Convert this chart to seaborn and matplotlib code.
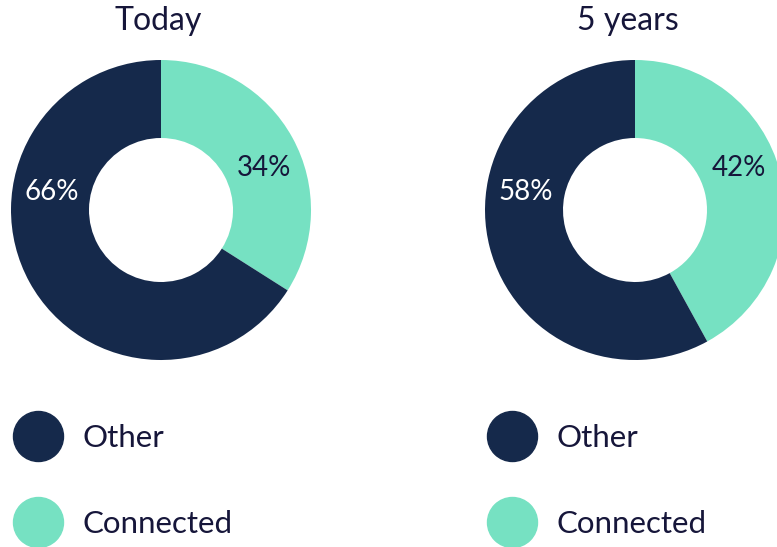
import matplotlib
matplotlib.use('Agg')
import matplotlib.pyplot as plt
import seaborn as sns
from matplotlib.lines import Line2D

# data
periods = ['Today', '5 years']
categories = ['Connected', 'Other']
connected = [34, 42]
other = [66, 58]
legend_order = ['Other', 'Connected']

navy = '#15294B'
mint = '#76E1C2'
text_dark = '#16163A'

sns.set_theme(style='white')
plt.rcParams['font.family'] = ['Lato', 'DejaVu Sans']

W, H = 777, 547
fig = plt.figure(figsize=(W / 100, H / 100), dpi=100)

# pixel layout of each donut: centre x, centre y, radius
centres = [(161, 210), (635, 210)]
R = 150
title_x = [158, 628]
legend_x = [7, 481]
# label positions (data units) for connected / other
conn_pos = [(0.69, 0.28), (0.69, 0.28)]
other_pos = [(-0.73, 0.12), (-0.73, 0.12)]

for i, period in enumerate(periods):
    cx, cy = centres[i]
    ax = fig.add_axes([(cx - R) / W, (H - cy - R) / H, 2 * R / W, 2 * R / H])
    vals = [connected[i], other[i]]
    ax.pie(vals, colors=[mint, navy], startangle=90, counterclock=False,
           radius=1, wedgeprops=dict(width=0.52, linewidth=0))
    ax.set_xlim(-1, 1)
    ax.set_ylim(-1, 1)
    ax.set_aspect('equal')
    ax.axis('off')

    ax.text(*conn_pos[i], f'{connected[i]}%', ha='center', va='center',
            fontsize=20, color=text_dark)
    ax.text(*other_pos[i], f'{other[i]}%', ha='center', va='center',
            fontsize=20, color='white')

    fig.text(title_x[i] / W, 1 - 21 / H, period, ha='center', va='center',
             fontsize=23, color=text_dark)

    handles = [Line2D([], [], marker='o', ls='', ms=36, color=navy if c == 'Other' else mint)
               for c in legend_order]
    fig.legend(handles, legend_order, loc='upper left',
               bbox_to_anchor=(legend_x[i] / W, 1 - 424 / H),
               frameon=False, fontsize=22.5, borderpad=0, borderaxespad=0,
               handlelength=2, handletextpad=0.4, labelspacing=1.85,
               labelcolor=text_dark)

fig.savefig('out.png', dpi=100)
